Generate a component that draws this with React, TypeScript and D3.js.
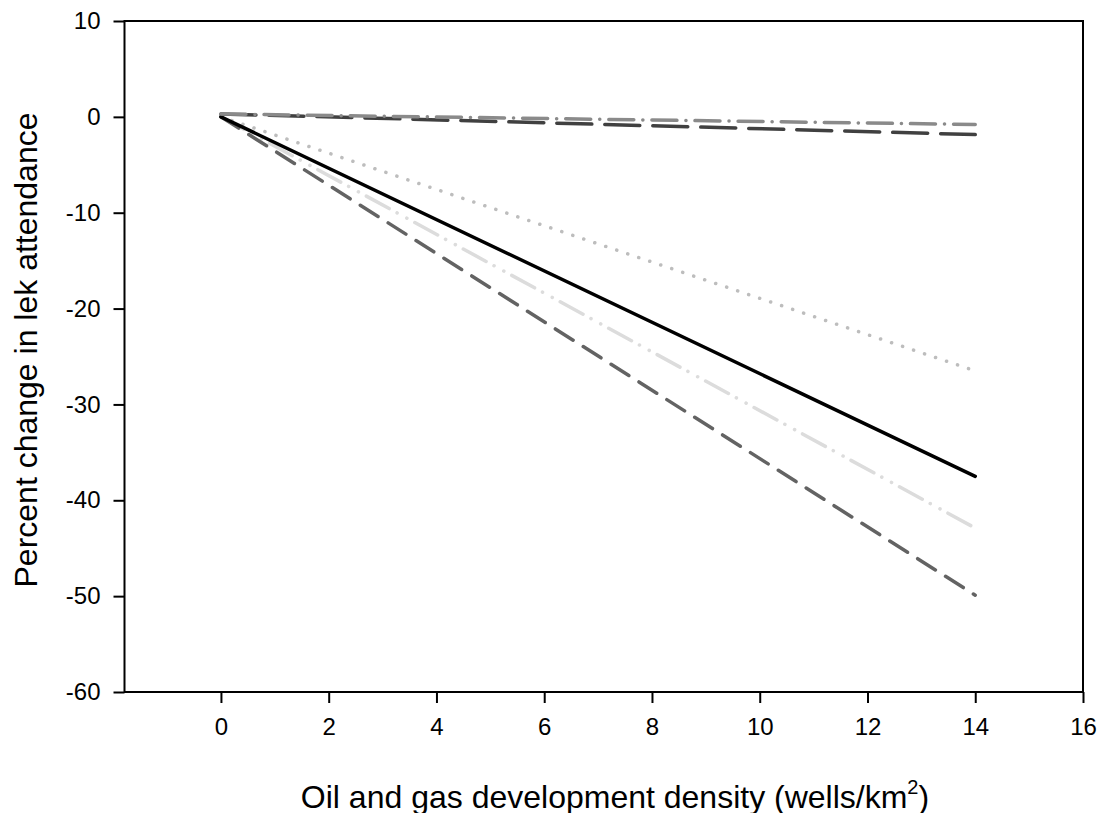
import { useRef, useEffect } from 'react';
import * as d3 from 'd3';

// x positions where each fitted line is drawn
const density = [0, 14];

// percent change at each density, per series
const solidBlack = [0, -37.5];
const dottedGray = [0, -26.5];
const dashDotLight = [0, -42.9];
const dashedMid = [0, -49.9];
const dashedDark = [0.3, -1.85];
const dashDotGray = [0.3, -0.8];

const xTicks = [0, 2, 4, 6, 8, 10, 12, 14, 16];
const yTicks = [10, 0, -10, -20, -30, -40, -50, -60];

const series = [
  { values: dottedGray, color: '#bdbdbd', dash: '0.1,11.5', width: 3.5 },
  { values: dashDotLight, color: '#dcdcdc', dash: '26,9,0.1,11,0.1,9', width: 3.5 },
  { values: dashedMid, color: '#636363', dash: '21,12', width: 3.5 },
  { values: solidBlack, color: '#000000', dash: null, width: 3.5 },
  { values: dashedDark, color: '#404040', dash: '35,13', width: 3.5 },
  { values: dashDotGray, color: '#8a8a8a', dash: '25,9,0.1,9', width: 3.5 },
];

function App() {
  const svgRef = useRef(null);
  const width = 1099;
  const height = 813;

  useEffect(() => {
    const svg = d3.select(svgRef.current);
    svg.selectAll('*').remove();

    const margin = { top: 21, right: 16, bottom: 121, left: 124.5 };
    const font = 'Liberation Sans, Arial, sans-serif';
    const fmt = (d) => String(d);

    const x = d3.scaleLinear().domain([-1.79, 16]).range([margin.left, width - margin.right]);
    const y = d3.scaleLinear().domain([-60, 10]).range([height - margin.bottom, margin.top]);

    // frame
    svg
      .append('rect')
      .attr('x', x.range()[0])
      .attr('y', y.range()[1])
      .attr('width', x.range()[1] - x.range()[0])
      .attr('height', y.range()[0] - y.range()[1])
      .attr('fill', 'none')
      .attr('stroke', '#000')
      .attr('stroke-width', 2);

    const xAxis = svg
      .append('g')
      .attr('transform', `translate(0,${y.range()[0]})`)
      .call(d3.axisBottom(x).tickValues(xTicks).tickSize(11).tickPadding(15).tickFormat(fmt));
    xAxis.select('.domain').remove();
    xAxis.selectAll('line').attr('stroke-width', 2);
    xAxis.selectAll('text').style('font-family', font).style('font-size', '24px').attr('fill', '#000');

    const yAxis = svg
      .append('g')
      .attr('transform', `translate(${x.range()[0]},0)`)
      .call(d3.axisLeft(y).tickValues(yTicks).tickSize(11).tickPadding(13).tickFormat(fmt));
    yAxis.select('.domain').remove();
    yAxis.selectAll('line').attr('stroke-width', 2);
    yAxis.selectAll('text').style('font-family', font).style('font-size', '24px').attr('fill', '#000');

    const line = d3
      .line()
      .x((d) => x(d[0]))
      .y((d) => y(d[1]));

    svg
      .selectAll('path.series')
      .data(series)
      .join('path')
      .attr('class', 'series')
      .attr('d', (s) => line(density.map((v, i) => [v, s.values[i]])))
      .attr('fill', 'none')
      .attr('stroke', (s) => s.color)
      .attr('stroke-width', (s) => s.width)
      .attr('stroke-linecap', 'round')
      .attr('stroke-dasharray', (s) => s.dash);

    // axis titles
    const xt = svg
      .append('text')
      .attr('x', 615)
      .attr('y', 808)
      .attr('text-anchor', 'middle')
      .style('font-family', font)
      .style('font-size', '32px')
      .text('Oil and gas development density (wells/km');
    xt.append('tspan').attr('dy', -14).style('font-size', '20px').text('2');
    xt.append('tspan').attr('dy', 14).text(')');

    svg
      .append('text')
      .attr('transform', `translate(37,350) rotate(-90)`)
      .attr('text-anchor', 'middle')
      .style('font-family', font)
      .style('font-size', '32px')
      .text('Percent change in lek attendance');
  }, []);

  return <svg ref={svgRef} width={width} height={height} style={{ position: 'absolute', left: 0, top: 0 }}></svg>;
}

export default App;
